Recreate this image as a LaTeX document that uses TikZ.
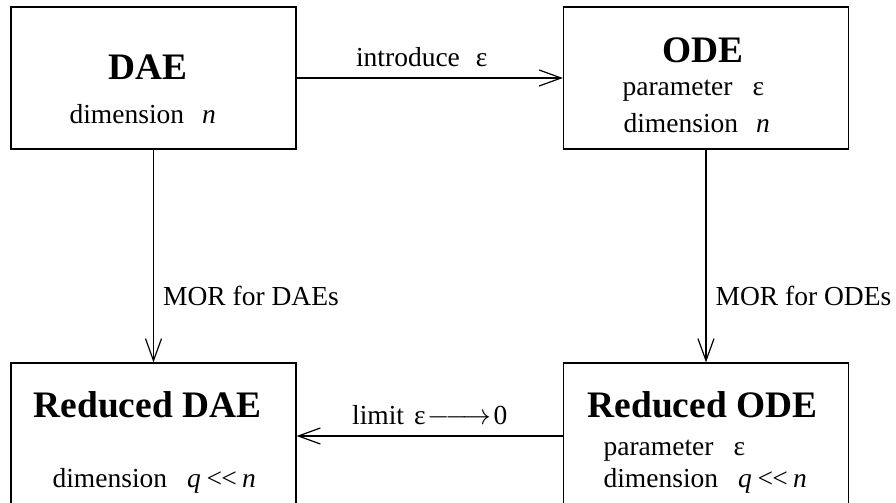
\documentclass[tikz,border=0pt]{standalone}
\usepackage{fontspec}
\setmainfont{Liberation Serif}
\usetikzlibrary{arrows.meta}

\begin{document}
\begin{tikzpicture}[x=0.5pt,y=-0.5pt,line width=0.6pt,
  >={Straight Barb[length=11pt,width=8pt]},
  box/.style={draw,minimum width=142.5pt,inner sep=0pt},
  txt/.style={anchor=base west,inner sep=0pt,font=\fontsize{13.75}{16}\selectfont},
  ttl/.style={anchor=base west,inner sep=0pt,font=\fontsize{18.7}{22}\selectfont\bfseries},
  lbl/.style={inner sep=0pt,font=\fontsize{13.75}{16}\selectfont}]
  \useasboundingbox (0,0) rectangle (896,503);
  % the four boxes
  \node[box,minimum height=71pt] (dae) at (153.5,78) {};
  \node[box,minimum height=71pt] (ode) at (706,78) {};
  \node[box,minimum height=73pt] (rdae) at (153.5,436) {};
  \node[box,minimum height=73pt] (rode) at (706,436) {};
  % box texts
  \node[ttl] (daeTitle) at (108,79) {DAE};
  \node[txt] (daeDim) at (69,123) {dimension\hspace{9pt}\textit{n}};
  \node[ttl] (odeTitle) at (662,62) {ODE};
  \node[txt] (odePar) at (622,96) {parameter\hspace{10pt}ε};
  \node[txt] (odeDim) at (623,132) {dimension\hspace{9pt}\textit{n}};
  \node[ttl] (rdaeTitle) at (33,417) {Reduced DAE};
  \node[txt] (rdaeDim) at (52,487) {dimension\hspace{10pt}\textit{q\hspace{2pt}<\kern-2pt<\hspace{2pt}n}};
  \node[ttl] (rodeTitle) at (587,417) {Reduced ODE};
  \node[txt] (rodePar) at (603,455) {parameter\hspace{10pt}ε};
  \node[txt] (rodeDim) at (603,487) {dimension\hspace{10pt}\textit{q\hspace{2pt}<\kern-2pt<\hspace{2pt}n}};
  % connectors
  \draw[->] (dae.east) -- node[lbl,above=5.5pt,pos=0.47] (introLbl) {introduce\hspace{8pt}ε} (ode.west);
  \draw[->] (dae.south) -- node[lbl,right=4.5pt,pos=0.69] (morDae) {MOR for DAEs} (rdae.north);
  \draw[->] (ode.south) -- node[lbl,right=4.5pt,pos=0.69] (morOde) {MOR for ODEs} (rode.north);
  \draw[->] (rode.west) -- node[lbl,above=5.5pt] (limitLbl)
    {limit\hspace{5pt}ε\hspace{1pt}$\relbar\joinrel\relbar\joinrel\rightarrow$\hspace{1pt}0} (rdae.east);
\end{tikzpicture}
\end{document}
